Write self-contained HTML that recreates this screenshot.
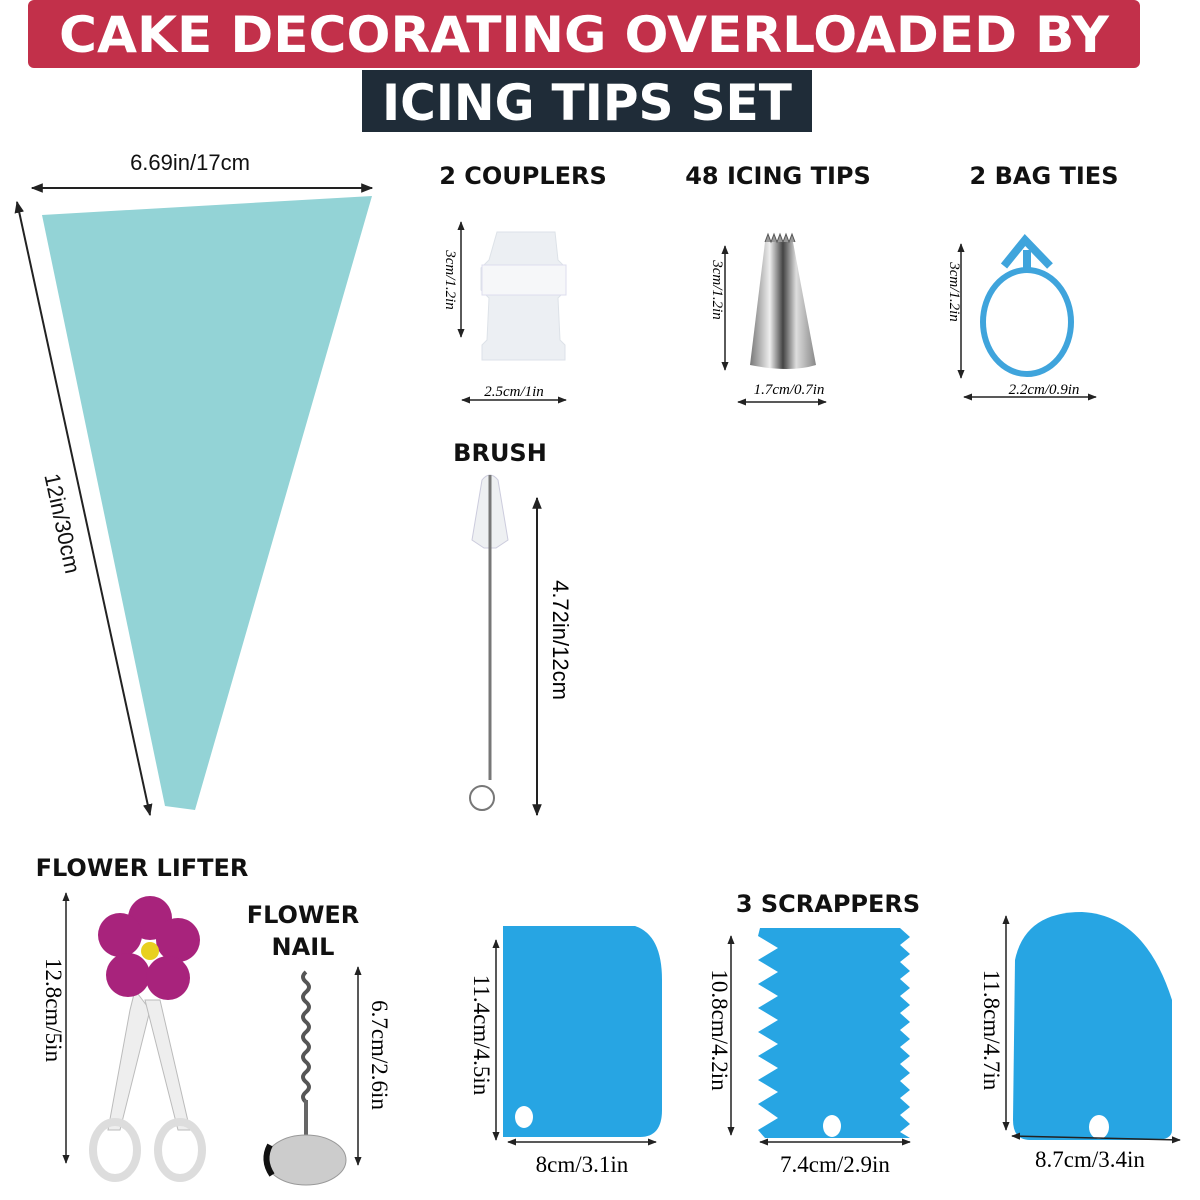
<!DOCTYPE html>
<html><head><meta charset="utf-8"><style>
body{margin:0;background:#fff}
svg{display:block}
.b{font-family:"DejaVu Sans","Liberation Sans",sans-serif;font-weight:bold}
.s{font-family:"Liberation Serif",serif;font-style:italic}
</style></head><body>
<svg width="1200" height="1200" viewBox="0 0 1200 1200" xmlns="http://www.w3.org/2000/svg">
<defs>
<marker id="a" viewBox="0 0 10 10" refX="9" refY="5" markerWidth="6" markerHeight="6" orient="auto-start-reverse"><path d="M0,1 L10,5 L0,9 z" fill="#222"/></marker>
<linearGradient id="st" x1="0" x2="1"><stop offset="0" stop-color="#777"/><stop offset=".3" stop-color="#eee"/><stop offset=".5" stop-color="#444"/><stop offset=".7" stop-color="#ddd"/><stop offset="1" stop-color="#888"/></linearGradient>
</defs>
<rect x="28" y="0" width="1112" height="68" rx="6" fill="#c2304a"/>
<text x="584" y="52" text-anchor="middle" class="b" font-size="50" fill="#fff" textLength="1050" lengthAdjust="spacingAndGlyphs">CAKE DECORATING OVERLOADED BY</text>
<rect x="362" y="70" width="450" height="62" fill="#1f2c38"/>
<text x="587" y="120" text-anchor="middle" class="b" font-size="50" fill="#fff" textLength="410" lengthAdjust="spacingAndGlyphs">ICING TIPS SET</text>

<!-- bag -->
<polygon points="42,215 372,196 195,810 165,806" fill="#93d3d6"/>
<line x1="32" y1="188" x2="372" y2="188" stroke="#222" stroke-width="2" marker-start="url(#a)" marker-end="url(#a)"/>
<text x="190" y="170" text-anchor="middle" font-family="Liberation Sans,sans-serif" font-size="22" fill="#111">6.69in/17cm</text>
<line x1="17" y1="202" x2="150" y2="815" stroke="#222" stroke-width="2" marker-start="url(#a)" marker-end="url(#a)"/>
<text transform="translate(55,525) rotate(77.8)" text-anchor="middle" font-family="Liberation Sans,sans-serif" font-size="22" fill="#111">12in/30cm</text>

<!-- headings -->
<text x="523" y="184" text-anchor="middle" class="b" font-size="24" fill="#111">2 COUPLERS</text>
<text x="778" y="184" text-anchor="middle" class="b" font-size="24" fill="#111">48 ICING TIPS</text>
<text x="1044" y="184" text-anchor="middle" class="b" font-size="24" fill="#111">2 BAG TIES</text>

<!-- coupler -->
<path d="M497,232 L555,232 L558,260 L566,268 L566,290 L558,298 L560,340 L565,345 L565,360 L482,360 L482,345 L487,340 L489,298 L481,290 L481,268 L489,260 z" fill="#eceff3" stroke="#dde2e8"/>
<rect x="482" y="265" width="84" height="30" fill="#f6f7f9" stroke="#dde"/>
<line x1="461" y1="222" x2="461" y2="337" stroke="#222" stroke-width="1.5" marker-start="url(#a)" marker-end="url(#a)"/>
<text transform="translate(446,280) rotate(90)" text-anchor="middle" class="s" font-size="15">3cm/1.2in</text>
<line x1="462" y1="400" x2="566" y2="400" stroke="#222" stroke-width="1.5" marker-start="url(#a)" marker-end="url(#a)"/>
<text x="514" y="396" text-anchor="middle" class="s" font-size="15">2.5cm/1in</text>

<!-- tip -->
<path d="M765,242 L793,242 L816,365 Q790,373 750,365 z" fill="url(#st)"/>
<path d="M765,242 l3,-8 l3,8 l3,-8 l3,8 l3,-8 l3,8 l3,-8 l3,8 l3,-8 l3,8" fill="#999" stroke="#555"/>
<line x1="725" y1="246" x2="725" y2="370" stroke="#222" stroke-width="1.5" marker-start="url(#a)" marker-end="url(#a)"/>
<text transform="translate(713,290) rotate(90)" text-anchor="middle" class="s" font-size="15">3cm/1.2in</text>
<line x1="738" y1="402" x2="826" y2="402" stroke="#222" stroke-width="1.5" marker-start="url(#a)" marker-end="url(#a)"/>
<text x="789" y="394" text-anchor="middle" class="s" font-size="15">1.7cm/0.7in</text>

<!-- bag tie -->
<ellipse cx="1027" cy="322" rx="44" ry="52" fill="none" stroke="#3fa4dc" stroke-width="6"/>
<path d="M1027,250 L1027,270 M1004,266 L1025,240 L1050,266" fill="none" stroke="#3fa4dc" stroke-width="8"/>
<line x1="961" y1="244" x2="961" y2="378" stroke="#222" stroke-width="1.5" marker-start="url(#a)" marker-end="url(#a)"/>
<text transform="translate(950,292) rotate(90)" text-anchor="middle" class="s" font-size="15">3cm/1.2in</text>
<line x1="964" y1="397" x2="1096" y2="397" stroke="#222" stroke-width="1.5" marker-start="url(#a)" marker-end="url(#a)"/>
<text x="1044" y="394" text-anchor="middle" class="s" font-size="15">2.2cm/0.9in</text>

<!-- brush -->
<text x="500" y="461" text-anchor="middle" class="b" font-size="24" fill="#111">BRUSH</text>
<path d="M472,540 L482,480 Q490,470 498,480 L508,540 L496,548 L484,548 z" fill="#eef0f2" stroke="#ccd" />
<line x1="490" y1="475" x2="490" y2="780" stroke="#777" stroke-width="3"/>
<circle cx="482" cy="798" r="12" fill="none" stroke="#777" stroke-width="2"/>
<line x1="537" y1="498" x2="537" y2="815" stroke="#222" stroke-width="2" marker-start="url(#a)" marker-end="url(#a)"/>
<text transform="translate(553,640) rotate(90)" text-anchor="middle" font-family="Liberation Sans,sans-serif" font-size="22">4.72in/12cm</text>

<!-- flower lifter -->
<text x="142" y="876" text-anchor="middle" class="b" font-size="24" fill="#111">FLOWER LIFTER</text>
<line x1="66" y1="893" x2="66" y2="1163" stroke="#222" stroke-width="1.5" marker-start="url(#a)" marker-end="url(#a)"/>
<text transform="translate(46,1010) rotate(90)" text-anchor="middle" font-size="23" font-family="Liberation Serif,serif">12.8cm/5in</text>
<path d="M135,990 L150,1010 L120,1130 L108,1130 L130,1010 z" fill="#eee" stroke="#bbb"/>
<path d="M145,1000 L160,1000 L190,1130 L178,1130 z" fill="#eee" stroke="#bbb"/>
<ellipse cx="115" cy="1150" rx="22" ry="28" fill="none" stroke="#ddd" stroke-width="8"/>
<ellipse cx="180" cy="1150" rx="22" ry="28" fill="none" stroke="#ddd" stroke-width="8"/>
<g fill="#a8237c">
<circle cx="150" cy="918" r="22"/><circle cx="120" cy="935" r="22"/><circle cx="178" cy="940" r="22"/><circle cx="128" cy="975" r="22"/><circle cx="168" cy="978" r="22"/>
</g>
<circle cx="150" cy="951" r="9" fill="#e8d020"/>

<!-- flower nail -->
<text x="303" y="923" text-anchor="middle" class="b" font-size="24" fill="#111">FLOWER</text>
<text x="303" y="955" text-anchor="middle" class="b" font-size="24" fill="#111">NAIL</text>
<path d="M306,972 q-6,5 0,10 q6,5 0,10 q-6,5 0,10 q6,5 0,10 q-6,5 0,10 q6,5 0,10 q-6,5 0,10 q6,5 0,10 q-6,5 0,10 q6,5 0,10 q-6,5 0,10 q6,5 0,10 q-6,5 0,10" fill="none" stroke="#555" stroke-width="4"/>
<line x1="306" y1="1100" x2="306" y2="1165" stroke="#666" stroke-width="4"/>
<ellipse cx="306" cy="1160" rx="40" ry="25" fill="#ccc" stroke="#999"/>
<path d="M270,1145 Q262,1160 272,1175" fill="none" stroke="#111" stroke-width="6"/>
<line x1="358" y1="967" x2="358" y2="1165" stroke="#222" stroke-width="1.5" marker-start="url(#a)" marker-end="url(#a)"/>
<text transform="translate(372,1055) rotate(90)" text-anchor="middle" font-family="Liberation Serif,serif" font-size="23">6.7cm/2.6in</text>

<!-- scrapers -->
<text x="828" y="912" text-anchor="middle" class="b" font-size="24" fill="#111">3 SCRAPPERS</text>
<path d="M503,926 L635,926 Q662,935 662,980 L662,1110 Q662,1137 640,1137 L503,1137 z" fill="#27a5e3"/>
<ellipse cx="524" cy="1117" rx="9" ry="11" fill="#fff"/>
<line x1="496" y1="940" x2="496" y2="1140" stroke="#222" stroke-width="1.5" marker-start="url(#a)" marker-end="url(#a)"/>
<text transform="translate(474,1035) rotate(90)" text-anchor="middle" font-family="Liberation Serif,serif" font-size="23">11.4cm/4.5in</text>
<line x1="508" y1="1142" x2="656" y2="1142" stroke="#222" stroke-width="1.5" marker-start="url(#a)" marker-end="url(#a)"/>
<text x="582" y="1172" text-anchor="middle" font-family="Liberation Serif,serif" font-size="23">8cm/3.1in</text>

<path d="M760,928 L900,928 L910,937 L900,945 L910,954 L900,962 L910,971 L900,979 L910,988 L900,996 L910,1005 L900,1013 L910,1022 L900,1030 L910,1039 L900,1047 L910,1056 L900,1064 L910,1073 L900,1081 L910,1090 L900,1098 L910,1107 L900,1115 L910,1124 L900,1132 L910,1138 L765,1138 L758,1130 L778,1118 L758,1104 L778,1092 L758,1080 L778,1068 L758,1056 L778,1044 L758,1032 L778,1020 L758,1008 L778,996 L758,984 L778,972 L758,960 L778,948 L758,936 z" fill="#27a5e3"/>
<ellipse cx="832" cy="1126" rx="9" ry="11" fill="#fff"/>
<line x1="731" y1="936" x2="731" y2="1135" stroke="#222" stroke-width="1.5" marker-start="url(#a)" marker-end="url(#a)"/>
<text transform="translate(712,1030) rotate(90)" text-anchor="middle" font-family="Liberation Serif,serif" font-size="23">10.8cm/4.2in</text>
<line x1="760" y1="1142" x2="910" y2="1142" stroke="#222" stroke-width="1.5" marker-start="url(#a)" marker-end="url(#a)"/>
<text x="835" y="1172" text-anchor="middle" font-family="Liberation Serif,serif" font-size="23">7.4cm/2.9in</text>

<path d="M1015,960 Q1025,912 1082,912 Q1145,915 1172,1000 L1172,1130 Q1172,1140 1155,1140 L1030,1140 Q1013,1140 1013,1120 z" fill="#27a5e3"/>
<ellipse cx="1099" cy="1127" rx="10" ry="12" fill="#fff"/>
<line x1="1006" y1="916" x2="1006" y2="1130" stroke="#222" stroke-width="1.5" marker-start="url(#a)" marker-end="url(#a)"/>
<text transform="translate(984,1030) rotate(90)" text-anchor="middle" font-family="Liberation Serif,serif" font-size="23">11.8cm/4.7in</text>
<line x1="1012" y1="1136" x2="1180" y2="1140" stroke="#222" stroke-width="1.5" marker-start="url(#a)" marker-end="url(#a)"/>
<text x="1090" y="1167" text-anchor="middle" font-family="Liberation Serif,serif" font-size="23">8.7cm/3.4in</text>
</svg>
</body></html>
